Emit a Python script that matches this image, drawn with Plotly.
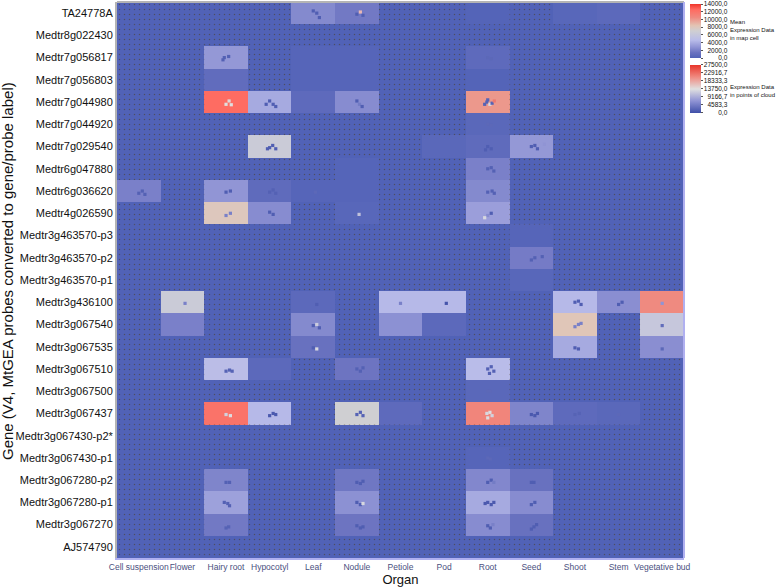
import numpy as np
import plotly.graph_objects as go

organs = ["Cell suspension", "Flower", "Hairy root", "Hypocotyl", "Leaf", "Nodule", "Petiole",
          "Pod", "Root", "Seed", "Shoot", "Stem", "Vegetative bud"]
genes = ["TA24778A", "Medtr8g022430", "Medtr7g056817", "Medtr7g056803", "Medtr7g044980",
         "Medtr7g044920", "Medtr7g029540", "Medtr6g047880", "Medtr6g036620", "Medtr4g026590",
         "Medtr3g463570-p3", "Medtr3g463570-p2", "Medtr3g463570-p1", "Medtr3g436100",
         "Medtr3g067540", "Medtr3g067535", "Medtr3g067510", "Medtr3g067500", "Medtr3g067437",
         "Medtr3g067430-p2*", "Medtr3g067430-p1", "Medtr3g067280-p2", "Medtr3g067280-p1",
         "Medtr3g067270", "AJ574790"]

# mean expression, one row per gene, same order as organs
mean_expr = [
    [0, 0, 0, 0, 2400, 1700, 0, 0, 150, 0, 400, 600, 0],
    [0, 0, 0, 0, 0, 0, 0, 0, 0, 0, 0, 0, 0],
    [0, 0, 3000, 0, 300, 300, 0, 0, 700, 0, 0, 0, 0],
    [0, 0, 900, 0, 300, 300, 0, 0, 150, 0, 0, 0, 0],
    [0, 0, 12500, 3800, 700, 2500, 0, 0, 10000, 0, 0, 0, 0],
    [0, 0, 0, 0, 0, 0, 0, 0, 500, 0, 0, 0, 0],
    [0, 0, 0, 6500, 0, 0, 0, 500, 800, 3000, 0, 0, 0],
    [0, 0, 0, 0, 0, 250, 0, 0, 2000, 0, 0, 0, 0],
    [2000, 0, 2900, 800, 300, 300, 0, 0, 2400, 0, 0, 0, 0],
    [0, 0, 8000, 2500, 0, 400, 0, 0, 3300, 0, 0, 0, 0],
    [0, 0, 0, 0, 0, 0, 0, 0, 0, 300, 0, 0, 0],
    [0, 0, 0, 0, 0, 0, 0, 0, 0, 1800, 0, 0, 0],
    [0, 0, 0, 0, 0, 0, 0, 0, 0, 400, 0, 0, 0],
    [0, 6500, 0, 0, 600, 0, 4500, 4500, 0, 0, 4500, 2600, 10500],
    [0, 2000, 0, 0, 2400, 0, 2700, 600, 0, 0, 8200, 0, 6000],
    [0, 0, 0, 0, 1300, 0, 0, 0, 0, 0, 3800, 0, 2600],
    [0, 0, 4800, 600, 0, 1500, 0, 0, 4600, 0, 0, 0, 0],
    [0, 0, 0, 0, 0, 0, 0, 0, 500, 0, 0, 0, 0],
    [0, 0, 12000, 4500, 0, 7000, 700, 0, 10800, 2200, 700, 500, 0],
    [0, 0, 0, 0, 0, 0, 0, 0, 0, 0, 0, 0, 0],
    [0, 0, 0, 0, 0, 0, 0, 0, 300, 0, 0, 0, 0],
    [0, 0, 2200, 0, 0, 1600, 0, 0, 2300, 1300, 0, 0, 0],
    [0, 0, 3400, 0, 0, 2700, 0, 0, 3800, 2500, 0, 0, 0],
    [0, 0, 1700, 0, 0, 1500, 0, 0, 2500, 1300, 0, 0, 0],
    [0, 0, 0, 0, 0, 0, 0, 0, 0, 0, 0, 0, 0],
]

# probe points of the clouds, read cell by cell
cloud_x = [4.0, 4.08, 4.14, 5.0, 5.08, 5.14,
           1.96, 2.06, 1.93, 2.0, 2.07, 2.12, 3.0, 3.08, 3.14, 2.92,
           5.0, 5.06, 5.12, 7.98, 8.05, 8.0, 8.1, 8.15, 7.93,
           3.0, 3.07, 3.14, 2.95, 8.0, 8.08, 7.95, 9.0, 9.08, 9.14, 9.3,
           8.0, 8.08, 8.14, 0.0, 0.08, 0.14, 2.0, 2.1, 3.0, 3.08, 3.14,
           8.0, 8.1, 8.15, 8.0, 8.08, 7.93, 3.0, 3.08, 2.1, 2.0,
           9.0, 9.08, 9.25, 1.06, 4.08, 6.0, 7.05, 10.0, 10.08, 10.14, 11.0, 11.08, 12.0,
           10.0, 10.08, 10.14, 4.0, 4.08, 4.14, 12.0, 4.0, 4.08, 10.0, 10.08, 12.0,
           2.0, 2.08, 2.14, 5.0, 5.08, 5.14, 8.0, 8.08, 8.14, 8.04,
           2.0, 2.1, 3.0, 3.08, 3.14, 5.0, 5.08, 5.14, 7.98, 8.05, 8.1, 8.0, 9.0, 9.08, 9.14,
           2.0, 2.08, 5.0, 5.08, 5.14, 8.0, 8.08, 8.14, 9.0, 9.06,
           1.96, 2.04, 2.08, 5.0, 5.08, 5.14, 7.94, 8.0, 8.08, 8.14, 9.0, 9.08,
           2.0, 2.06, 5.0, 5.08, 5.14, 8.0, 8.06, 8.12, 9.0, 9.06, 9.12,
           8.0, 8.08, 8.0, 8.08, 8.0, 8.06, 10.0, 10.1, 11.0, 5.05, 4.05, 8.0, 8.06]
cloud_y = [-0.1, 0.0, 0.2, 0.05, -0.05, 0.1,
           2.0, 1.95, 2.1, 4.1, 3.95, 4.12, 3.95, 4.1, 4.2, 4.1,
           3.95, 4.1, 4.2, 4.0, 4.1, 3.9, 4.05, 3.95, 4.1,
           6.05, 5.95, 6.1, 6.1, 6.0, 6.1, 6.15, 6.0, 5.95, 6.1, 5.9,
           7.0, 6.95, 7.1, 8.1, 8.0, 8.15, 8.05, 8.0, 8.05, 7.95, 8.1,
           8.05, 8.0, 8.1, 9.1, 9.0, 9.2, 8.95, 9.05, 9.0, 9.1,
           11.1, 11.0, 10.95, 13.05, 13.1, 13.05, 13.05, 13.0, 12.95, 13.1, 13.1, 13.0, 13.05,
           14.1, 14.0, 13.95, 14.05, 14.0, 14.15, 14.05, 15.05, 15.1, 15.05, 15.1, 15.1,
           16.1, 16.05, 16.1, 16.0, 16.1, 15.95, 16.0, 15.9, 16.1, 16.2,
           18.05, 18.1, 18.1, 18.0, 18.05, 18.05, 17.95, 18.1, 18.0, 17.95, 18.1, 18.2, 18.05, 18.1, 18.0,
           21.1, 21.1, 21.1, 21.15, 21.05, 21.1, 21.0, 21.1, 21.1, 21.1,
           22.0, 22.05, 22.15, 22.0, 22.1, 22.05, 22.05, 22.0, 22.1, 22.0, 22.1, 22.0,
           23.15, 23.1, 23.05, 23.15, 23.1, 23.05, 23.15, 23.0, 23.2, 23.1, 23.0,
           2.0, 2.05, 5.0, 5.05, 17.0, 17.0, 18.05, 18.0, 18.05, 9.05, 8.05, 20.0, 20.05]
cloud_val = [1500, 1500, 1500, 1500, 17000, 1500,
             1800, 1800, 1800, 13800, 14500, 13800, 1500, 1500, 1500, 1500,
             1500, 4500, 1500, 2000, 13000, 2000, 2000, 22000, 2000,
             1500, 1500, 1500, 1500, 1500, 1500, 1500, 1500, 1500, 1500, 7000,
             1800, 1800, 1800, 1800, 1800, 1800, 1500, 1500, 1800, 1800, 1800,
             1800, 1800, 1800, 6000, 1500, 13000, 1500, 1500, 5000, 5000,
             1800, 1800, 1800, 5000, 1500, 5000, 500, 1500, 1500, 1500, 1500, 1500, 7000,
             5000, 5000, 5000, 1500, 12000, 1500, 3000, 1500, 13000, 1500, 1500, 2500,
             2000, 2000, 2000, 1800, 1800, 1800, 1800, 1800, 1800, 1800,
             12500, 13500, 1000, 1000, 1000, 2000, 2000, 2000, 13000, 13500, 12500, 13500, 1000, 1000, 1000,
             1800, 1800, 1500, 1500, 1500, 1500, 1500, 4500, 1500, 1500,
             1800, 1800, 1800, 1500, 1500, 13000, 1000, 1000, 1000, 1000, 1500, 1500,
             2000, 2000, 1500, 1500, 1500, 1500, 1500, 5000, 1500, 1500, 1500,
             2500, 2500, 2500, 2500, 2500, 2500, 2000, 2000, 2500, 11000, 2500, 2500, 2500]

mean_ticks = [0, 2000, 4000, 6000, 8000, 10000, 12000, 14000]
cloud_ticks = [0, 4583.3, 9166.7, 13750, 18333.3, 22916.7, 27500]

map_colors = [[0, "#5162b7"], [0.1, "#6a72c0"], [0.2, "#8f93d4"], [0.33, "#b9bce9"], [0.5, "#cfcfd2"],
              [0.6, "#e3c4b4"], [0.75, "#ef8a80"], [0.9, "#ff6a60"], [1, "#f0352a"]]
cloud_colors = [[0, "#3f4fa8"], [0.25, "#8f93d4"], [0.5, "#e0e0e0"], [0.75, "#f08a80"], [1, "#e8352a"]]


def bar_label(v):
    # right align the colorbar labels with figure spaces
    txt = f"{v:.1f}".replace(".", ",")
    return "\u2007" * (7 - len(txt)) + txt


rows = np.arange(len(genes))
cols = np.arange(len(organs))
z = np.array(mean_expr, dtype=float)
empty_r, empty_c = np.where(z == 0)

fig = go.Figure()
fig.add_trace(go.Heatmap(
    x=cols, y=rows, z=z, zmin=0, zmax=14000, colorscale=map_colors, hoverinfo="skip",
    colorbar=dict(x=1.0106, xanchor="left", xpad=0, y=0.9964, yanchor="top", ypad=0,
                  thickness=11, len=54, lenmode="pixels", outlinewidth=0,
                  tickvals=mean_ticks, ticktext=[bar_label(v) for v in mean_ticks],
                  ticks="outside", ticklen=2, tickcolor="#555555",
                  tickfont=dict(size=6.5, color="#111111", family="Liberation Sans"))))

# background speckle of the empty cells
fig.add_trace(go.Bar(
    x=empty_c, y=[1] * len(empty_c), base=empty_r - 0.5, width=1, hoverinfo="skip",
    marker=dict(color="rgba(0,0,0,0)", line_width=0,
                pattern=dict(shape=".", size=5, solidity=0.07, fgcolor="#4a3a10", bgcolor="rgba(0,0,0,0)"))))

fig.add_trace(go.Scatter(
    x=cloud_x, y=cloud_y, mode="markers", hoverinfo="skip",
    marker=dict(symbol="square", size=3.2, color=cloud_val, cmin=0, cmax=27500, colorscale=cloud_colors,
                line_width=0,
                colorbar=dict(x=1.0106, xanchor="left", xpad=0, y=0.8867, yanchor="top", ypad=0,
                              thickness=11, len=48, lenmode="pixels", outlinewidth=0,
                              tickvals=cloud_ticks, ticktext=[bar_label(v) for v in cloud_ticks],
                              ticks="outside", ticklen=2, tickcolor="#555555",
                              tickfont=dict(size=6.5, color="#111111", family="Liberation Sans")))))

notes = [("Mean<br>Expression Data<br>in map cell", 30), ("Expression Data<br>in points of cloud", 91)]
for txt, ypix in notes:
    fig.add_annotation(text=txt, xref="paper", yref="paper", x=(729 - 117) / 567, y=1 - (ypix - 2) / 556,
                       xanchor="left", yanchor="middle", align="left", showarrow=False, borderpad=0,
                       font=dict(size=6, color="#111111"))

# y axis title sits off the plot centre in the reference
fig.add_annotation(text="Gene (V4, MtGEA probes converted to gene/probe label)", xref="paper", yref="paper",
                   x=(7 - 117) / 567, y=1 - (271 - 2) / 556, textangle=-90, xanchor="center", yanchor="middle",
                   showarrow=False, font=dict(size=15, color="#111111"))

fig.add_shape(type="line", xref="paper", yref="paper", x0=0, x1=1, y0=1, y1=1, line=dict(color="#b4b4b4", width=2))
fig.add_shape(type="line", xref="paper", yref="paper", x0=1, x1=1, y0=0, y1=1, line=dict(color="#b0b0f0", width=2))

fig.update_layout(
    width=776, height=588, autosize=False,
    margin=dict(l=117, r=92, t=2, b=30, pad=0),
    paper_bgcolor="white", plot_bgcolor="#5162b7", showlegend=False,
    font=dict(family="Liberation Sans", color="#111111"),
    xaxis=dict(range=[-0.5, 12.5], tickvals=cols, ticktext=organs, tickangle=0, showgrid=False, zeroline=False,
               ticks="", tickfont=dict(size=8.5, color="#4a5080"), showline=True, linecolor="#b0b0f0", linewidth=2,
               title=dict(text="Organ", font=dict(size=13), standoff=4), automargin=False),
    yaxis=dict(range=[24.5, -0.5], tickvals=rows, ticktext=genes, showgrid=False, zeroline=False,
               ticks="", tickfont=dict(size=11, color="#111111"), showline=True, linecolor="#b4b4b4", linewidth=2,
               automargin=False),
)

fig.write_html("out.html", post_script="document.body.style.margin='0';", config=dict(displayModeBar=False))
